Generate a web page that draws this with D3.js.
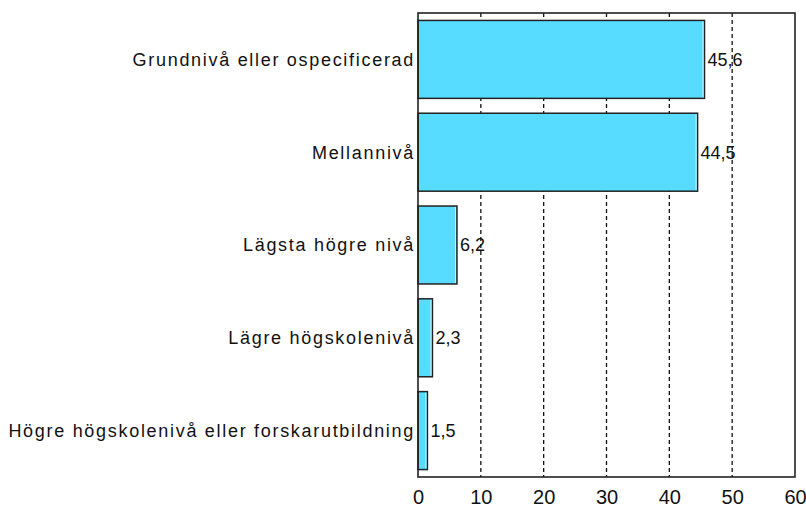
<!DOCTYPE html>
<html>
<head>
<meta charset="utf-8">
<script src="https://cdn.jsdelivr.net/npm/d3@7"></script>
<style>
  body { margin: 0; background: #fff; }
  text { font-family: "Liberation Sans", Arial, sans-serif; fill: #111; }
</style>
</head>
<body>
<div id="chart"></div>
<script>
// data
var categories = [
  "Grundnivå eller ospecificerad",
  "Mellannivå",
  "Lägsta högre nivå",
  "Lägre högskolenivå",
  "Högre högskolenivå eller forskarutbildning"
];
var values = [45.6, 44.5, 6.2, 2.3, 1.5];
var valueLabels = ["45,6", "44,5", "6,2", "2,3", "1,5"];
var xTicks = [0, 10, 20, 30, 40, 50, 60];

var svgWidth = 806;
var svgHeight = 507;

var margin = { top: 13, right: 11, bottom: 30, left: 418 };
var width = svgWidth - margin.left - margin.right;
var height = svgHeight - margin.top - margin.bottom;

var svg = d3.select("#chart").append("svg")
  .attr("width", svgWidth)
  .attr("height", svgHeight);

var chartGroup = svg.append("g")
  .attr("transform", `translate(${margin.left}, ${margin.top})`);

var xScale = d3.scaleLinear().domain([0, 60]).range([0, width]);
var yScale = d3.scaleBand().domain(categories).range([0, height])
  .paddingInner(0.16).paddingOuter(0.08);

// dashed gridlines
chartGroup.selectAll(".grid")
  .data(xTicks.slice(1, -1))
  .enter()
  .append("line")
  .attr("x1", d => xScale(d))
  .attr("x2", d => xScale(d))
  .attr("y1", 0)
  .attr("y2", height)
  .attr("stroke", "#111")
  .attr("stroke-width", 1.3)
  .attr("stroke-dasharray", "4,3");

// bars
var bars = chartGroup.selectAll(".bar")
  .data(values)
  .enter()
  .append("g");

bars.append("rect")
  .attr("x", 0)
  .attr("y", (d, i) => yScale(categories[i]))
  .attr("width", d => xScale(d))
  .attr("height", yScale.bandwidth())
  .attr("fill", "#57dcff")
  .attr("stroke", "#222")
  .attr("stroke-width", 1.5);

// light inner edge on right side
bars.append("line")
  .attr("x1", d => xScale(d) - 1.5)
  .attr("x2", d => xScale(d) - 1.5)
  .attr("y1", (d, i) => yScale(categories[i]) + 1)
  .attr("y2", (d, i) => yScale(categories[i]) + yScale.bandwidth() - 1)
  .attr("stroke", "#c9f3ff")
  .attr("stroke-width", 1);

// value labels
chartGroup.selectAll(".val")
  .data(values)
  .enter()
  .append("text")
  .attr("x", d => xScale(d) + 3)
  .attr("y", (d, i) => yScale(categories[i]) + yScale.bandwidth() / 2)
  .attr("dy", "0.36em")
  .attr("font-size", "18px")
  .text((d, i) => valueLabels[i]);

// category labels
chartGroup.selectAll(".cat")
  .data(categories)
  .enter()
  .append("text")
  .attr("x", -3)
  .attr("y", d => yScale(d) + yScale.bandwidth() / 2)
  .attr("dy", "0.36em")
  .attr("text-anchor", "end")
  .attr("font-size", "18px")
  .attr("letter-spacing", "1.7px")
  .text(d => d);

// frame
chartGroup.append("rect")
  .attr("x", 0)
  .attr("y", 0)
  .attr("width", width)
  .attr("height", height)
  .attr("fill", "none")
  .attr("stroke", "#222")
  .attr("stroke-width", 1.6);

// x axis labels
var xAxis = d3.axisBottom(xScale).tickValues(xTicks).tickSize(0).tickPadding(0);
var xAxisGroup = chartGroup.append("g")
  .attr("transform", `translate(0, ${height})`)
  .call(xAxis);
xAxisGroup.select(".domain").remove();
xAxisGroup.selectAll("text")
  .attr("y", 27)
  .attr("dy", 0)
  .attr("font-size", "20px")
  .attr("font-family", "'Liberation Sans', Arial, sans-serif")
  .attr("fill", "#111");
</script>
</body>
</html>
